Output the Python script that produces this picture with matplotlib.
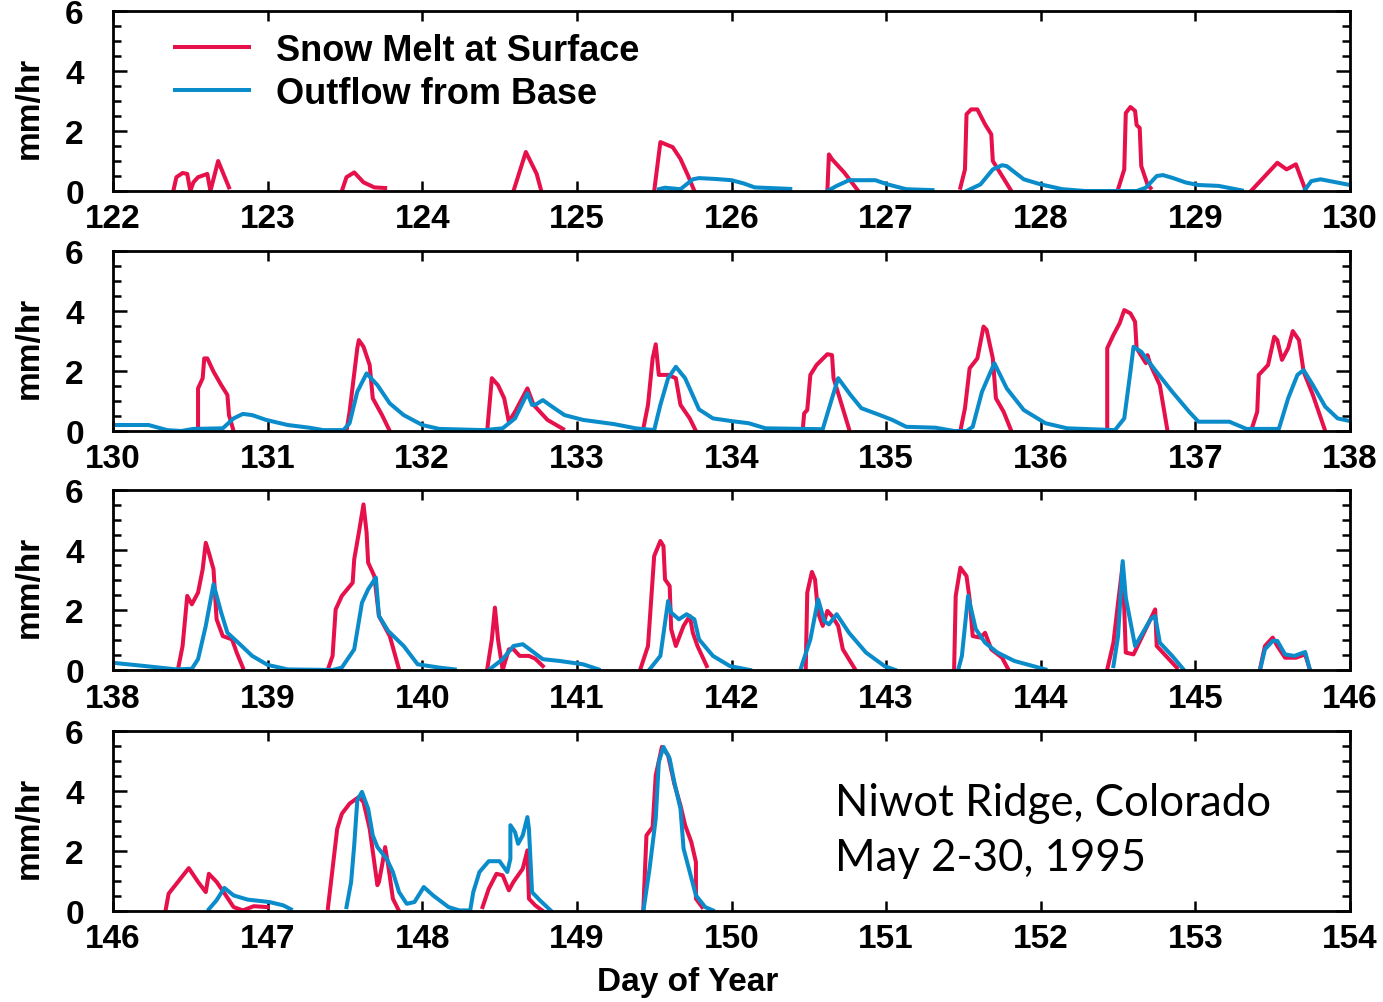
import numpy as np
import matplotlib
matplotlib.use("Agg")
import matplotlib.pyplot as plt

nan = float("nan")

# day of year / rate (mm/hr), nan breaks the line between events
melt_day_1 = [122.39, 122.41, 122.45, 122.48, 122.50, 122.52, 122.55, 122.61, 122.63, 122.68, 122.75, nan,
              123.48, 123.51, 123.56, 123.62, 123.69, 123.76, nan,
              124.59, 124.67, 124.74, 124.77, nan,
              125.50, 125.54, 125.62, 125.67, 125.72, 125.76, nan,
              126.62, 126.63, 126.65, 126.73, 126.82, nan,
              127.48, 127.51, 127.52, 127.55, 127.59, 127.64, 127.68, 127.69, 127.81, nan,
              128.50, 128.54, 128.55, 128.58, 128.61, 128.62, 128.64, 128.65, 128.69, 128.71, nan,
              129.36, 129.53, 129.59, 129.65, 129.71]
melt_mm_1 = [0, 0.46, 0.6, 0.57, 0, 0.29, 0.46, 0.57, 0, 1.0, 0.12, nan,
             0, 0.46, 0.62, 0.29, 0.12, 0.1, nan,
             0, 1.3, 0.57, 0, nan,
             0, 1.63, 1.46, 1.07, 0.5, 0, nan,
             0, 1.22, 1.06, 0.61, 0, nan,
             0.11, 0.72, 2.56, 2.72, 2.72, 2.22, 1.89, 1.0, 0, nan,
             0.06, 0.72, 2.6, 2.8, 2.67, 2.2, 2.1, 0.83, 0.22, 0.1, nan,
             0, 0.94, 0.72, 0.89, 0.06]
base_day_1 = [125.53, 125.57, 125.67, 125.75, 125.79, 125.9, 126.0, 126.08, 126.15, 126.38, nan,
              126.62, 126.68, 126.76, 126.93, 127.01, 127.13, 127.30, nan,
              127.52, 127.61, 127.69, 127.75, 127.78, 127.89, 128.0, 128.14, 128.29, 128.62, 128.68,
              128.75, 128.79, 128.85, 128.94, 129.02, 129.15, 129.30, nan,
              129.71, 129.75, 129.81, 129.92, 130.0]
base_mm_1 = [0.06, 0.11, 0.06, 0.39, 0.43, 0.4, 0.36, 0.25, 0.12, 0.07, nan,
             0, 0.17, 0.36, 0.36, 0.22, 0.06, 0.03, nan,
             0, 0.22, 0.72, 0.86, 0.83, 0.39, 0.22, 0.06, 0, 0, 0.11,
             0.5, 0.53, 0.44, 0.28, 0.2, 0.17, 0.02, nan,
             0.05, 0.33, 0.39, 0.28, 0.2]

melt_day_2 = [130.55, 130.55, 130.58, 130.59, 130.61, 130.65, 130.70, 130.74, 130.75, 130.78, nan,
              131.51, 131.53, 131.58, 131.59, 131.62, 131.66, 131.68, 131.74, 131.79, nan,
              132.42, 132.45, 132.49, 132.53, 132.56, 132.60, 132.68, 132.72, 132.81, 132.91, nan,
              133.43, 133.46, 133.49, 133.51, 133.53, 133.59, 133.64, 133.67, 133.73, 133.77, nan,
              134.46, 134.47, 134.49, 134.51, 134.55, 134.62, 134.65, 134.66, 134.70, 134.76, nan,
              135.48, 135.51, 135.54, 135.59, 135.63, 135.65, 135.69, 135.71, 135.76, 135.81, nan,
              136.43, 136.43, 136.47, 136.51, 136.54, 136.58, 136.61, 136.62, 136.68, 136.69, 136.71,
              136.77, 136.82, nan,
              137.36, 137.40, 137.41, 137.47, 137.51, 137.53, 137.56, 137.60, 137.63, 137.67, 137.70,
              137.76, 137.84]
melt_mm_2 = [0, 1.42, 1.76, 2.42, 2.42, 1.98, 1.53, 1.2, 0.53, 0, nan,
             0, 0.64, 2.76, 3.03, 2.81, 2.2, 1.09, 0.53, 0, nan,
             0, 1.76, 1.53, 1.09, 0.31, 0.64, 1.42, 0.87, 0.37, 0.07, nan,
             0.09, 0.87, 2.42, 2.89, 1.87, 1.87, 1.76, 0.87, 0.42, 0, nan,
             0, 0.59, 0.7, 1.87, 2.2, 2.56, 2.53, 1.76, 1.09, 0.07, nan,
             0, 0.76, 2.09, 2.42, 3.48, 3.37, 2.42, 1.09, 0.64, 0, nan,
             0, 2.76, 3.2, 3.59, 4.03, 3.92, 3.64, 2.76, 2.26, 2.53, 2.2,
             1.53, 0, nan,
             0, 0.64, 1.87, 2.2, 3.14, 3.03, 2.37, 2.76, 3.33, 3.03, 1.98,
             1.2, 0]
base_day_2 = [130.0, 130.23, 130.35, 130.44, 130.52, 130.71, 130.78, 130.84, 130.90, 130.99, 131.13,
              131.27, 131.36, 131.49, 131.53, 131.58, 131.64, 131.71, 131.79, 131.88, 132.0, 132.11,
              132.40, 132.52, 132.60, 132.68, 132.71, 132.73, 132.78, 132.84, 132.92, 133.04, 133.24,
              133.38, 133.50, 133.54, 133.59, 133.64, 133.70, 133.79, 133.88, 134.0, 134.11, 134.22,
              134.59, 134.65, 134.69, 134.77, 134.84, 134.96, 135.04, 135.13, 135.32, 135.44, 135.52,
              135.56, 135.62, 135.70, 135.78, 135.89, 136.03, 136.17, 136.48, 136.54, 136.58, 136.60,
              136.65, 136.74, 136.85, 136.96, 137.02, 137.22, 137.33, 137.54, 137.60, 137.66, 137.70,
              137.76, 137.84, 137.92, 138.0]
base_mm_2 = [0.2, 0.2, 0.03, 0, 0.07, 0.09, 0.42, 0.57, 0.53, 0.37, 0.2,
             0.11, 0.03, 0.03, 0.26, 1.31, 1.92, 1.53, 0.92, 0.53, 0.2, 0.07,
             0.03, 0.09, 0.42, 1.26, 0.87, 0.87, 1.03, 0.81, 0.53, 0.37, 0.23,
             0.09, 0.03, 0.87, 1.76, 2.14, 1.76, 0.72, 0.42, 0.33, 0.26, 0.09,
             0.06, 1.09, 1.76, 1.2, 0.76, 0.53, 0.37, 0.14, 0.11, 0, 0,
             0.14, 1.31, 2.26, 1.42, 0.7, 0.26, 0.09, 0.03, 0.42, 1.98, 2.81,
             2.64, 2.03, 1.31, 0.64, 0.31, 0.31, 0.07, 0.07, 1.09, 1.87, 2.03,
             1.53, 0.81, 0.42, 0.33]

melt_day_3 = [138.42, 138.45, 138.47, 138.48, 138.51, 138.55, 138.58, 138.60, 138.62, 138.65, 138.67,
              138.71, 138.77, 138.80, 138.84, nan,
              139.39, 139.42, 139.44, 139.48, 139.55, 139.56, 139.59, 139.62, 139.64, 139.65, 139.69,
              139.72, 139.79, 139.85, nan,
              140.42, 140.45, 140.47, 140.49, 140.52, 140.56, 140.59, 140.63, 140.69, 140.73, 140.78, nan,
              141.41, 141.46, 141.50, 141.54, 141.56, 141.57, 141.60, 141.61, 141.64, 141.69, 141.73,
              141.75, 141.78, 141.84, nan,
              142.48, 142.49, 142.52, 142.54, 142.56, 142.59, 142.62, 142.65, 142.69, 142.72, 142.80, nan,
              143.44, 143.45, 143.48, 143.52, 143.54, 143.56, 143.61, 143.64, 143.68, 143.75, 143.79, nan,
              144.43, 144.47, 144.50, 144.53, 144.55, 144.60, 144.74, 144.75, 144.88, nan,
              145.42, 145.45, 145.50, 145.53, 145.58, 145.65, 145.71, 145.74]
melt_mm_3 = [0.02, 0.8, 1.91, 2.47, 2.19, 2.58, 3.36, 4.24, 3.91, 3.36, 1.69,
             1.13, 1.02, 0.58, 0.08, nan,
             0.02, 0.47, 2.02, 2.47, 2.91, 3.69, 4.58, 5.52, 4.58, 3.58, 3.13,
             1.8, 1.13, 0.02, nan,
             0.02, 1.02, 2.08, 1.02, 0, 0.69, 0.69, 0.47, 0.47, 0.38, 0.13, nan,
             0.02, 0.8, 3.8, 4.3, 4.13, 3.02, 2.8, 1.36, 0.8, 1.47, 1.8,
             1.24, 0.8, 0.13, nan,
             0.02, 2.58, 3.27, 3.02, 1.91, 1.47, 1.97, 1.8, 1.47, 0.69, 0.02, nan,
             0.08, 2.47, 3.41, 3.13, 2.36, 1.13, 1.08, 1.24, 0.69, 0.41, 0.02, nan,
             0.02, 0.91, 2.24, 3.52, 0.58, 0.52, 2.02, 0.8, 0.08, nan,
             0.08, 0.8, 1.08, 0.8, 0.41, 0.41, 0.52, 0.02]
base_day_3 = [138.0, 138.21, 138.41, 138.51, 138.55, 138.60, 138.65, 138.70, 138.74, 138.81, 138.90,
              139.0, 139.13, 139.42, 139.48, 139.56, 139.61, 139.65, 139.70, 139.72, 139.78, 139.88,
              139.97, 140.11, 140.21, nan,
              140.43, 140.52, 140.59, 140.65, 140.71, 140.78, 140.89, 141.04, 141.14, nan,
              141.47, 141.54, 141.59, 141.61, 141.66, 141.71, 141.76, 141.79, 141.88, 141.99, 142.12, nan,
              142.45, 142.51, 142.56, 142.60, 142.63, 142.68, 142.76, 142.87, 142.99, 143.06, nan,
              143.47, 143.49, 143.53, 143.58, 143.64, 143.72, 143.83, 144.03, nan,
              144.47, 144.50, 144.53, 144.55, 144.61, 144.71, 144.74, 144.77, 144.85, 144.92, nan,
              145.42, 145.45, 145.50, 145.53, 145.58, 145.64, 145.71, 145.74]
base_mm_3 = [0.24, 0.13, 0.02, 0.04, 0.36, 1.47, 2.86, 1.91, 1.24, 0.91, 0.47,
             0.17, 0.02, 0, 0.08, 0.69, 2.24, 2.69, 3.08, 1.8, 1.3, 0.8,
             0.19, 0.08, 0.02, nan,
             0, 0.36, 0.8, 0.86, 0.63, 0.36, 0.3, 0.19, 0.02, nan,
             0.02, 0.47, 2.3, 1.91, 1.69, 1.86, 1.69, 1.02, 0.47, 0.13, 0, nan,
             0.08, 1.02, 2.36, 1.63, 1.52, 1.86, 1.24, 0.58, 0.13, 0, nan,
             0.08, 0.47, 2.47, 1.36, 0.91, 0.58, 0.3, 0.02, nan,
             0.13, 1.13, 3.63, 2.41, 0.8, 1.69, 1.8, 0.91, 0.47, 0.04, nan,
             0.04, 0.69, 0.97, 0.97, 0.52, 0.47, 0.6, 0.02]

melt_day_4 = [146.34, 146.36, 146.42, 146.49, 146.55, 146.60, 146.62, 146.67, 146.73, 146.78, 146.84,
              146.91, 147.0, nan,
              147.39, 147.42, 147.45, 147.48, 147.53, 147.59, 147.62, 147.66, 147.71, 147.72, 147.74,
              147.76, 147.78, 147.81, 147.85, nan,
              148.39, 148.43, 148.48, 148.52, 148.56, 148.59, 148.65, 148.68, 148.69, 148.73, 148.78, nan,
              149.43, 149.45, 149.49, 149.51, 149.55, 149.59, 149.63, 149.67, 149.70, 149.74, 149.77,
              149.77, 149.81]
melt_mm_4 = [0.02, 0.58, 0.97, 1.43, 0.97, 0.63, 1.24, 0.97, 0.52, 0.13, 0.02,
             0.16, 0.13, nan,
             0.1, 1.41, 2.74, 3.24, 3.58, 3.8, 3.63, 2.74, 0.86, 0.97, 1.52,
             2.13, 1.52, 0.41, 0, nan,
             0.13, 0.74, 1.24, 1.19, 0.69, 0.97, 1.41, 2.02, 0.41, 0.19, 0, nan,
             0.08, 2.52, 2.8, 4.52, 5.47, 5.19, 4.24, 3.52, 2.86, 2.3, 1.63,
             0.41, 0.13]
base_day_4 = [146.62, 146.67, 146.72, 146.78, 146.87, 147.01, 147.10, 147.15, nan,
              147.51, 147.54, 147.56, 147.58, 147.61, 147.65, 147.68, 147.71, 147.77, 147.81, 147.85,
              147.90, 147.95, 148.01, 148.07, 148.17, 148.24, 148.31, 148.33, 148.37, 148.43, 148.50,
              148.55, 148.57, 148.57, 148.60, 148.62, 148.65, 148.68, 148.69, 148.71, 148.76, 148.83, nan,
              149.43, 149.47, 149.51, 149.53, 149.56, 149.60, 149.63, 149.67, 149.69, 149.73, 149.77,
              149.83, 149.88]
base_mm_4 = [0.06, 0.36, 0.77, 0.52, 0.38, 0.3, 0.19, 0.06, nan,
             0.13, 0.97, 2.19, 3.69, 3.97, 3.41, 2.52, 2.13, 1.74, 1.3, 0.63,
             0.24, 0.3, 0.8, 0.52, 0.13, 0.02, 0.02, 0.63, 1.3, 1.66, 1.66,
             1.3, 1.74, 2.86, 2.63, 2.24, 2.52, 3.13, 2.74, 0.63, 0.36, 0.02, nan,
             0, 1.41, 3.08, 4.97, 5.47, 5.08, 4.3, 3.41, 2.08, 1.3, 0.52,
             0.13, 0.02]

panel_start = [122, 130, 138, 146]
melt_days = [melt_day_1, melt_day_2, melt_day_3, melt_day_4]
melt_rates = [melt_mm_1, melt_mm_2, melt_mm_3, melt_mm_4]
base_days = [base_day_1, base_day_2, base_day_3, base_day_4]
base_rates = [base_mm_1, base_mm_2, base_mm_3, base_mm_4]

RED = "#E6104B"
BLUE = "#0A8CCB"

plt.rcParams["font.family"] = ["Liberation Sans", "DejaVu Sans"]
plt.rcParams["font.weight"] = "bold"

W, H = 1383, 1003
fig = plt.figure(figsize=(W / 100, H / 100), dpi=100)

tops = [12, 252, 491, 732]
axes = []
for i, start in enumerate(panel_start):
    ax = fig.add_axes([113 / W, 1 - (tops[i] + 180) / H, 1237 / W, 180 / H])
    ax.plot(melt_days[i], melt_rates[i], color=RED, lw=2.9, label="Snow Melt at Surface")
    ax.plot(base_days[i], base_rates[i], color=BLUE, lw=2.9, label="Outflow from Base")
    ax.set_xlim(start, start + 8)
    ax.set_ylim(0, 6)
    ax.set_xticks(np.arange(start, start + 9))
    ax.set_yticks([0, 2, 4, 6])
    ax.set_yticks(np.arange(0, 6.01, 0.5), minor=True)
    ax.tick_params(axis="x", which="major", direction="in", top=True, bottom=True,
                   length=7, width=1.8, labelsize=24, pad=9)
    ax.tick_params(axis="y", which="major", direction="in", left=True, right=True,
                   length=10, width=1.8, labelsize=24, pad=21)
    ax.tick_params(axis="y", which="minor", direction="in", left=True, right=True,
                   length=6, width=1.8)
    for s in ax.spines.values():
        s.set_linewidth(2.0)
    ax.set_ylabel("mm/hr", fontsize=24, fontweight="bold", va="center")
    ax.yaxis.set_label_coords(-0.068, 0.47)
    axes.append(ax)

axes[0].legend(loc="upper left", bbox_to_anchor=(0.05, 0.88), frameon=False,
               fontsize=26, handlelength=2.05, handletextpad=0.75, labelspacing=0.22,
               borderpad=0, borderaxespad=0)

axes[3].text(0.584, 0.45, "Niwot Ridge, Colorado\nMay 2-30, 1995", transform=axes[3].transAxes,
             fontsize=31.5, fontweight="normal", family=["Lato", "DejaVu Sans"],
             ha="left", va="center", linespacing=1.42)

fig.text(688 / W, 1 - 983 / H, "Day of Year", fontsize=24, fontweight="bold",
         ha="center", va="center")

fig.savefig("out.png", dpi=100)
